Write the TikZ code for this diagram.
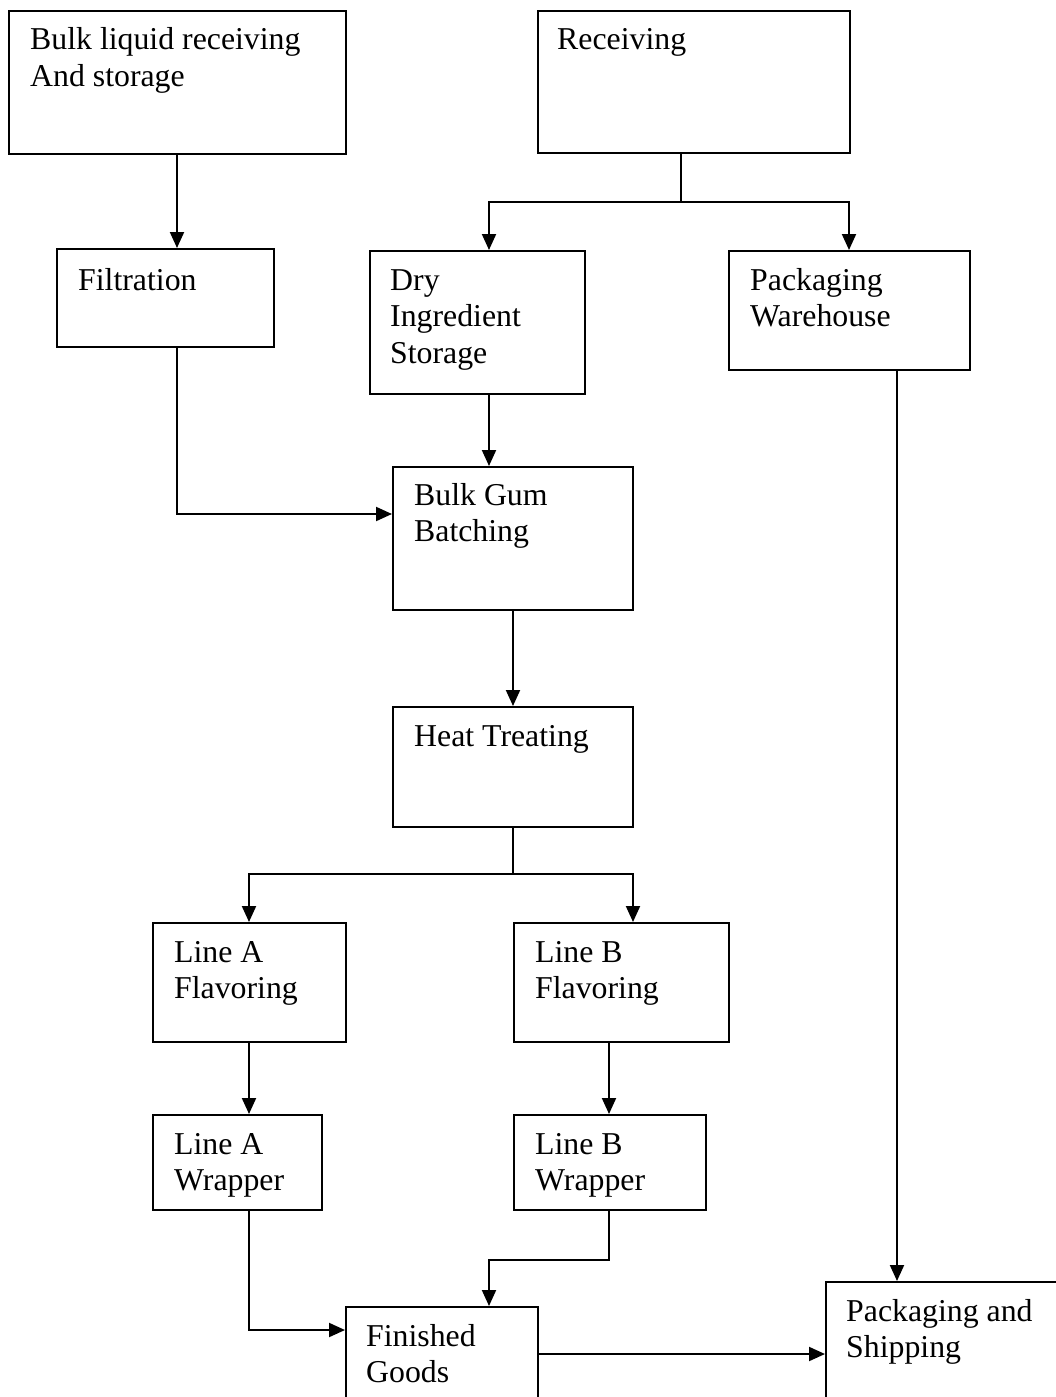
\documentclass[tikz,border=0pt]{standalone}
\usepackage{fontspec}
\setmainfont{Liberation Serif}
\usetikzlibrary{arrows.meta}
\begin{document}
\begin{tikzpicture}[x=1pt,y=-1pt,
  box/.style={draw, line width=2pt, inner sep=0pt, anchor=north west},
  lbl/.style={anchor=base west, inner sep=0pt, font=\fontsize{31.8}{36.8}\selectfont},
  conn/.style={line width=2pt, -{Triangle[width=14pt,length=16pt]}},
  plain/.style={line width=2pt}]
\useasboundingbox (0,0) rectangle (1056,1397);
\clip (0,0) rectangle (1056,1397);
% boxes
\node[box, minimum width=337pt, minimum height=143pt] (bulk) at (8,10) {};
\node[box, minimum width=312pt, minimum height=142pt] (recv) at (537,10) {};
\node[box, minimum width=217pt, minimum height=98pt] (filt) at (56,248) {};
\node[box, minimum width=215pt, minimum height=143pt] (dry) at (369,250) {};
\node[box, minimum width=241pt, minimum height=119pt] (pw) at (728,250) {};
\node[box, minimum width=240pt, minimum height=143pt] (batch) at (392,466) {};
\node[box, minimum width=240pt, minimum height=120pt] (heat) at (392,706) {};
\node[box, minimum width=193pt, minimum height=119pt] (laf) at (152,922) {};
\node[box, minimum width=215pt, minimum height=119pt] (lbf) at (513,922) {};
\node[box, minimum width=169pt, minimum height=95pt] (law) at (152,1114) {};
\node[box, minimum width=192pt, minimum height=95pt] (lbw) at (513,1114) {};
\node[box, minimum width=192pt, minimum height=130pt] (fin) at (345,1306) {};
\node[box, minimum width=280pt, minimum height=150pt] (ship) at (825,1281) {};
% labels
\node[lbl] (tbulk) at (30,50) {\parbox[t]{310pt}{Bulk liquid receiving\\And storage}};
\node[lbl] (trecv) at (557,50) {\parbox[t]{280pt}{Receiving}};
\node[lbl] (tfilt) at (78,290) {\parbox[t]{190pt}{Filtration}};
\node[lbl] (tdry) at (390,290) {\parbox[t]{190pt}{Dry\\Ingredient\\Storage}};
\node[lbl] (tpw) at (750,290) {\parbox[t]{215pt}{Packaging\\Warehouse}};
\node[lbl] (tbatch) at (414,505) {\parbox[t]{215pt}{Bulk Gum\\Batching}};
\node[lbl] (theat) at (414,746) {\parbox[t]{215pt}{Heat Treating}};
\node[lbl] (tlaf) at (174,962) {\parbox[t]{170pt}{Line A\\Flavoring}};
\node[lbl] (tlbf) at (535,962) {\parbox[t]{190pt}{Line B\\Flavoring}};
\node[lbl] (tlaw) at (174,1154) {\parbox[t]{145pt}{Line A\\Wrapper}};
\node[lbl] (tlbw) at (535,1154) {\parbox[t]{170pt}{Line B\\Wrapper}};
\node[lbl] (tfin) at (366,1346) {\parbox[t]{170pt}{Finished\\Goods}};
\node[lbl] (tship) at (846,1321) {\parbox[t]{220pt}{Packaging and\\Shipping}};
% connectors
\draw[conn] ([xshift=169pt]bulk.south west) -- ([xshift=121pt]filt.north west);
\coordinate (rj) at (681,202);
\draw[plain] ([xshift=144pt]recv.south west) -- (rj);
\draw[conn] (rj) -| ([xshift=120pt]dry.north west);
\draw[conn] (rj) -| ([xshift=121pt]pw.north west);
\draw[conn] ([xshift=121pt]filt.south west) |- ([yshift=-48pt]batch.north west);
\draw[conn] ([xshift=120pt]dry.south west) -- ([xshift=97pt]batch.north west);
\draw[conn] ([xshift=121pt]batch.south west) -- ([xshift=121pt]heat.north west);
\coordinate (hj) at (513,874);
\draw[plain] ([xshift=121pt]heat.south west) -- (hj);
\draw[conn] (hj) -| ([xshift=97pt]laf.north west);
\draw[conn] (hj) -| ([xshift=120pt]lbf.north west);
\draw[conn] ([xshift=97pt]laf.south west) -- ([xshift=97pt]law.north west);
\draw[conn] ([xshift=96pt]lbf.south west) -- ([xshift=96pt]lbw.north west);
\draw[conn] ([xshift=97pt]law.south west) |- ([yshift=-24pt]fin.north west);
\draw[conn] ([xshift=96pt]lbw.south west) -- ++(0,49) -| ([xshift=144pt]fin.north west);
\draw[conn] ([yshift=-48pt]fin.north east) -- ([yshift=-73pt]ship.north west);
\draw[conn] ([xshift=169pt]pw.south west) -- ([xshift=72pt]ship.north west);
\end{tikzpicture}
\end{document}
